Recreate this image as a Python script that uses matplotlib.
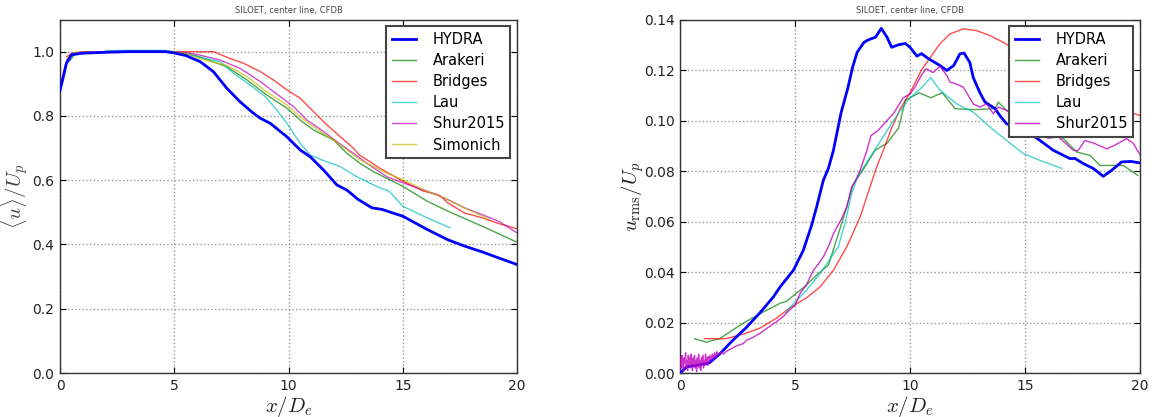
import matplotlib
matplotlib.use("Agg")
import matplotlib.pyplot as plt

plt.rcParams["mathtext.fontset"] = "cm"
plt.rcParams["font.family"] = ["DejaVu Sans"]

TITLE = "SILOET, center line, CFDB"

# ---- mean centre-line velocity  <u>/U_p ----
hydra_u_x = [0.0, 0.13, 0.28, 0.5, 0.94, 2.0, 3.0, 4.0, 4.6, 5.0, 5.5, 6.13, 6.71, 7.3, 7.88, 8.4, 8.76,
             9.2, 9.93, 10.51, 10.95, 11.54, 12.12, 12.56, 13.05, 13.65, 14.1, 14.56, 15.0, 16.06, 16.96,
             17.7, 18.47, 19.2, 20.0]
hydra_u_y = [0.88, 0.917, 0.964, 0.99, 0.995, 0.998, 1.0, 1.0, 1.0, 0.996, 0.988, 0.969, 0.938, 0.886, 0.844,
             0.812, 0.793, 0.777, 0.735, 0.694, 0.673, 0.631, 0.585, 0.569, 0.54, 0.514, 0.509, 0.498, 0.488,
             0.447, 0.415, 0.395, 0.377, 0.358, 0.3375]

arakeri_u_x = [0.4, 0.7, 1.0, 2.0, 3.0, 4.0, 5.0, 5.6, 6.13, 7.3, 8.18, 9.05, 9.93, 10.51, 11.1, 11.97,
               12.56, 13.14, 13.73, 14.32, 14.9, 16.06, 16.96, 18.47, 20.0]
arakeri_u_y = [0.97, 0.995, 0.998, 1.0, 1.0, 1.0, 0.999, 0.993, 0.983, 0.953, 0.912, 0.865, 0.824, 0.787,
               0.756, 0.725, 0.683, 0.652, 0.626, 0.605, 0.585, 0.535, 0.504, 0.457, 0.407]

bridges_u_x = [0.3, 0.6, 1.0, 2.0, 3.0, 4.0, 5.0, 6.13, 6.71, 7.44, 8.03, 8.76, 9.34, 9.93, 10.51, 11.1,
               11.68, 12.27, 12.85, 13.07, 13.58, 13.95, 15.0, 15.9, 16.5, 16.66, 16.96, 17.7, 18.47,
               19.2, 20.0]
bridges_u_y = [0.985, 0.997, 0.999, 1.0, 1.0, 1.0, 1.0, 0.9995, 1.0, 0.979, 0.964, 0.938, 0.912, 0.881,
               0.855, 0.813, 0.772, 0.735, 0.699, 0.68, 0.657, 0.639, 0.597, 0.566, 0.556, 0.55, 0.53,
               0.498, 0.483, 0.465, 0.449]

lau_u_x = [2.0, 3.0, 4.0, 4.6, 5.0, 5.6, 6.13, 7.0, 7.59, 8.32, 8.98, 9.49, 9.93, 10.51, 10.95, 11.68,
           12.27, 12.98, 13.88, 14.4, 15.0, 16.06, 17.07]
lau_u_y = [1.003, 1.004, 1.004, 1.004, 1.0, 0.993, 0.983, 0.969, 0.933, 0.896, 0.86, 0.818, 0.777, 0.715,
           0.678, 0.657, 0.642, 0.611, 0.58, 0.566, 0.519, 0.483, 0.452]

shur_u_x = [0.0, 0.13, 0.3, 0.5, 1.0, 2.0, 3.0, 4.0, 5.0, 5.6, 6.13, 7.0, 7.88, 8.76, 9.64, 10.22, 10.81,
            11.54, 12.12, 12.85, 13.44, 14.32, 15.0, 16.06, 16.96, 17.7, 18.47, 19.2, 20.0]
shur_u_y = [0.89, 0.93, 0.975, 0.995, 0.998, 1.0, 1.0, 1.0, 1.0, 0.996, 0.989, 0.974, 0.948, 0.907, 0.86,
            0.829, 0.787, 0.751, 0.72, 0.683, 0.652, 0.61, 0.592, 0.566, 0.54, 0.514, 0.493, 0.472, 0.436]

simonich_u_x = [0.3, 0.6, 1.0, 2.0, 3.0, 4.0, 5.0, 5.6, 6.13, 7.3, 8.18, 9.05, 9.93, 10.51, 11.1, 11.97,
                12.56, 13.14, 13.73, 14.32, 14.9, 16.06, 16.96, 17.7, 18.77]
simonich_u_y = [0.98, 0.996, 0.998, 1.0, 1.0, 1.0, 1.0, 0.992, 0.978, 0.957, 0.923, 0.875, 0.834, 0.797,
                0.766, 0.725, 0.694, 0.663, 0.642, 0.621, 0.605, 0.566, 0.54, 0.514, 0.478]

# ---- centre-line turbulence intensity  u_rms/U_p ----
hydra_rms_x = [0.0, 0.3, 0.7, 1.27, 1.72, 2.3, 2.88, 3.46, 4.05, 4.35, 4.93, 5.36, 5.72, 5.94, 6.23, 6.45,
               6.67, 7.0, 7.3, 7.5, 7.7, 8.0, 8.2, 8.5, 8.75, 9.0, 9.2, 9.5, 9.8, 10.0, 10.3, 10.5, 10.8,
               11.3, 11.6, 11.9, 12.17, 12.35, 12.6, 12.75, 13.04, 13.26, 13.7, 13.9, 14.2, 14.7, 15.2,
               15.65, 16.23, 16.67, 16.96, 17.17, 17.54, 17.97, 18.4, 18.77, 19.2, 19.6, 20.0]
hydra_rms_y = [0.0, 0.0025, 0.003, 0.004, 0.0075, 0.013, 0.018, 0.0237, 0.030, 0.0341, 0.0407, 0.0486,
               0.0585, 0.0658, 0.0763, 0.081, 0.0882, 0.103, 0.113, 0.121, 0.127, 0.131, 0.132, 0.133,
               0.1365, 0.133, 0.129, 0.130, 0.1305, 0.129, 0.1255, 0.1265, 0.1245, 0.1218, 0.1198, 0.1218,
               0.1264, 0.1267, 0.123, 0.117, 0.111, 0.1073, 0.1047, 0.102, 0.0987, 0.097, 0.095, 0.0921,
               0.0882, 0.0862, 0.0849, 0.085, 0.0829, 0.081, 0.0779, 0.0803, 0.0836, 0.0838, 0.0832]

arakeri_rms_x = [0.63, 1.14, 1.72, 2.74, 3.46, 4.35, 4.63, 5.5, 5.94, 6.45, 6.8, 7.25, 7.54, 7.9, 8.48,
                 9.0, 9.5, 9.8, 10.0, 10.4, 10.9, 11.4, 11.96, 12.75, 13.7, 13.84, 14.2, 15.0, 16.0,
                 16.67, 17.25, 17.83, 18.26, 18.77, 19.27, 19.9]
arakeri_rms_y = [0.0136, 0.0122, 0.0136, 0.0197, 0.0234, 0.0276, 0.0284, 0.0348, 0.0388, 0.0427, 0.0526,
                 0.0658, 0.075, 0.0796, 0.0882, 0.091, 0.097, 0.108, 0.109, 0.111, 0.109, 0.111, 0.1047,
                 0.1043, 0.1047, 0.1073, 0.104, 0.100, 0.096, 0.0928, 0.0875, 0.0862, 0.0822, 0.0822,
                 0.0822, 0.0783]

bridges_rms_x = [1.06, 2.0, 2.74, 3.46, 4.19, 4.78, 5.5, 6.09, 6.67, 7.25, 7.83, 8.26, 8.55, 8.84, 9.2,
                 9.6, 10.0, 10.5, 11.0, 11.3, 11.74, 12.32, 12.9, 13.48, 13.9, 15.0, 16.0, 17.0, 18.0,
                 19.0, 19.7, 20.0]
bridges_rms_y = [0.0136, 0.0136, 0.0154, 0.0177, 0.0217, 0.0258, 0.0298, 0.0341, 0.0407, 0.050, 0.0618,
                 0.0737, 0.0816, 0.0882, 0.097, 0.105, 0.111, 0.120, 0.1265, 0.1304, 0.1343, 0.1363,
                 0.1356, 0.1336, 0.1317, 0.126, 0.120, 0.114, 0.109, 0.105, 0.1028, 0.102]

lau_rms_x = [4.6, 4.78, 5.5, 6.09, 6.88, 7.17, 7.46, 7.75, 8.3, 9.0, 9.5, 10.0, 10.5, 10.9, 11.3, 12.03,
             12.75, 13.48, 14.2, 14.93, 15.65, 16.6]
lau_rms_y = [0.024, 0.026, 0.0328, 0.0394, 0.050, 0.0592, 0.071, 0.0783, 0.086, 0.096, 0.103, 0.109,
             0.113, 0.117, 0.112, 0.1066, 0.1033, 0.0974, 0.0921, 0.0869, 0.0842, 0.081]

shur_rms_x = [0.0, 0.03, 0.06, 0.09, 0.12, 0.15, 0.18, 0.21, 0.24, 0.27, 0.30, 0.33, 0.36, 0.39, 0.42,
              0.45, 0.48, 0.51, 0.54, 0.57, 0.60, 0.63, 0.66, 0.69, 0.72, 0.75, 0.78, 0.81, 0.84, 0.87,
              0.90, 0.93, 0.96, 0.99, 1.02, 1.05, 1.08, 1.11, 1.14, 1.17, 1.20, 1.23, 1.26, 1.30, 1.35,
              1.40, 1.45, 1.50, 1.55, 1.60, 1.65, 1.70, 1.80, 1.90, 2.0, 2.2, 2.4, 2.6, 2.74, 2.9, 3.1,
              3.3, 3.46, 3.7, 3.9, 4.19, 4.5, 4.71, 5.0, 5.22, 5.5, 5.8, 6.0, 6.23, 6.45, 6.67, 7.03,
              7.25, 7.46, 7.6, 7.83, 8.12, 8.3, 8.6, 9.0, 9.3, 9.7, 10.0, 10.2, 10.5, 10.7, 11.0, 11.3,
              11.6, 11.74, 12.0, 12.32, 12.46, 12.75, 13.04, 13.33, 13.62, 13.84, 14.2, 15.0, 16.0,
              16.45, 17.1, 17.3, 17.6, 18.0, 18.55, 18.9, 19.42, 19.7, 20.0]
shur_rms_y = [0.001, 0.006, 0.002, 0.007, 0.003, 0.0005, 0.006, 0.004, 0.008, 0.002, 0.005, 0.001, 0.007,
              0.003, 0.006, 0.002, 0.0075, 0.004, 0.001, 0.006, 0.003, 0.007, 0.002, 0.005, 0.0005, 0.006,
              0.003, 0.0075, 0.002, 0.005, 0.001, 0.006, 0.0035, 0.007, 0.002, 0.005, 0.003, 0.0075,
              0.004, 0.006, 0.003, 0.0065, 0.004, 0.007, 0.005, 0.0075, 0.0055, 0.008, 0.006, 0.0085,
              0.007, 0.0075, 0.0085, 0.0075, 0.0085, 0.0095, 0.0105, 0.0112, 0.0116, 0.013, 0.0138,
              0.0148, 0.0156, 0.0172, 0.0185, 0.0203, 0.0225, 0.0245, 0.0268, 0.0315, 0.035, 0.0407,
              0.043, 0.046, 0.050, 0.0552, 0.0612, 0.0658, 0.0737, 0.0756, 0.0802, 0.088, 0.094, 0.096,
              0.100, 0.103, 0.109, 0.1105, 0.113, 0.118, 0.1205, 0.119, 0.1215, 0.1178, 0.1152, 0.1145,
              0.1132, 0.111, 0.1066, 0.1053, 0.1066, 0.1027, 0.1053, 0.104, 0.099, 0.093, 0.0935,
              0.0882, 0.088, 0.0921, 0.091, 0.0888, 0.0902, 0.0928, 0.091, 0.0865]

blue = (0.0, 0.0, 1.0)
green = (0.0, 0.5, 0.0)
red = (1.0, 0.0, 0.0)
cyan = (0.0, 0.75, 0.75)
magenta = (0.75, 0.0, 0.75)
yellow = (0.75, 0.75, 0.0)
thin = dict(lw=1.0, alpha=0.7)

fig = plt.figure(figsize=(11.52, 4.17), dpi=100)
ax1 = fig.add_axes([0.0521, 0.1055, 0.3967, 0.8477])
ax2 = fig.add_axes([0.5903, 0.1055, 0.3993, 0.8477])

ax1.plot(hydra_u_x, hydra_u_y, color=blue, lw=2.0, label="HYDRA", zorder=5)
ax1.plot(arakeri_u_x, arakeri_u_y, color=green, label="Arakeri", **thin)
ax1.plot(bridges_u_x, bridges_u_y, color=red, label="Bridges", **thin)
ax1.plot(lau_u_x, lau_u_y, color=cyan, label="Lau", **thin)
ax1.plot(shur_u_x, shur_u_y, color=magenta, label="Shur2015", **thin)
ax1.plot(simonich_u_x, simonich_u_y, color=yellow, label="Simonich", **thin)

ax2.plot(hydra_rms_x, hydra_rms_y, color=blue, lw=2.0, label="HYDRA", zorder=5)
ax2.plot(arakeri_rms_x, arakeri_rms_y, color=green, label="Arakeri", **thin)
ax2.plot(bridges_rms_x, bridges_rms_y, color=red, label="Bridges", **thin)
ax2.plot(lau_rms_x, lau_rms_y, color=cyan, label="Lau", **thin)
ax2.plot(shur_rms_x, shur_rms_y, color=magenta, label="Shur2015", lw=1.0, alpha=0.8, zorder=6)

ax1.set_xlim(0, 20)
ax1.set_ylim(0, 1.1)
ax1.set_yticks([0.0, 0.2, 0.4, 0.6, 0.8, 1.0])
ax1.set_yticklabels(["0.0", "0.2", "0.4", "0.6", "0.8", "1.0"])
ax1.set_ylabel(r"$\langle u\rangle/U_p$", fontsize=15, color="#444444")
ax1.yaxis.set_label_coords(-0.064, 0.5)

ax2.set_xlim(0, 20)
ax2.set_ylim(0, 0.14)
ax2.set_yticks([0.0, 0.02, 0.04, 0.06, 0.08, 0.10, 0.12, 0.14])
ax2.set_yticklabels(["0.00", "0.02", "0.04", "0.06", "0.08", "0.10", "0.12", "0.14"])
ax2.set_ylabel(r"$u_{\rm rms}/U_p$", fontsize=15, color="#222222")
ax2.yaxis.set_label_coords(-0.074, 0.5)

for ax in (ax1, ax2):
    ax.set_xticks([0, 5, 10, 15, 20])
    ax.set_title(TITLE, fontsize=6, color="#444444", pad=5)
    ax.set_xlabel(r"$x/D_e$", fontsize=15, color="#222222")
    ax.xaxis.set_label_coords(0.5, -0.058)
    ax.grid(True, linestyle=":", color="#999999", lw=1.0)
    ax.tick_params(direction="in", top=True, right=True, labelsize=10, length=4,
                   labelcolor="#222222", pad=4)
    for s in ax.spines.values():
        s.set_color("#333333")
        s.set_linewidth(1.0)
    leg = ax.legend(loc="upper right", fontsize=10.5, fancybox=False, framealpha=1.0,
                    handlelength=1.6, handletextpad=1.2, borderpad=0.4, labelspacing=0.42,
                    borderaxespad=0.45)
    leg.get_frame().set_edgecolor("#444444")
    leg.get_frame().set_linewidth(1.5)
    leg.set_zorder(10)

fig.savefig("out.png", dpi=100)
